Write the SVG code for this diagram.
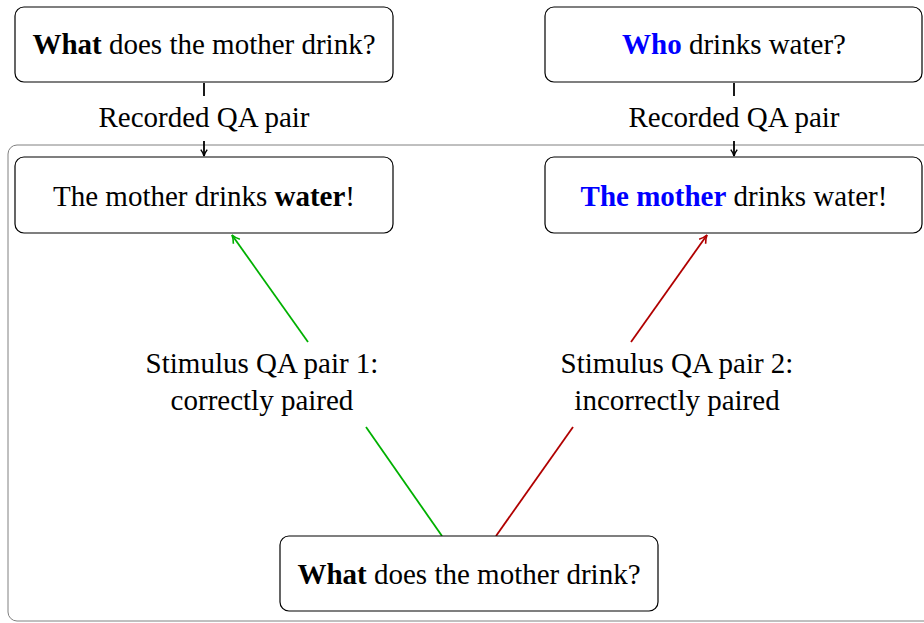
<svg xmlns="http://www.w3.org/2000/svg" width="924" height="623" viewBox="0 0 924 623">
<style>
.box{fill:#fff;stroke:#000;stroke-width:1.2}
.t{font-family:"Liberation Serif","DejaVu Serif",serif;font-size:29px;fill:#000;text-anchor:middle}
.b{font-weight:bold}
.blue{fill:#0000ff}
.c{fill:none;stroke-width:1.8}
</style>
<defs>
<marker id="ak" viewBox="0 0 10 10" refX="9" refY="5" markerWidth="8" markerHeight="8" orient="auto" markerUnits="userSpaceOnUse"><path d="M1,1 Q5,4 9,5 Q5,6 1,9" fill="none" stroke="#000" stroke-width="1.8"/></marker>
<marker id="ag" viewBox="0 0 10 10" refX="9" refY="5" markerWidth="10" markerHeight="10" orient="auto" markerUnits="userSpaceOnUse"><path d="M1,1 Q5,4 9,5 Q5,6 1,9" fill="none" stroke="#00b000" stroke-width="1.6"/></marker>
<marker id="ar" viewBox="0 0 10 10" refX="9" refY="5" markerWidth="10" markerHeight="10" orient="auto" markerUnits="userSpaceOnUse"><path d="M1,1 Q5,4 9,5 Q5,6 1,9" fill="none" stroke="#b00000" stroke-width="1.6"/></marker>
</defs>
<g id="container"><rect x="8" y="145" width="940" height="476" rx="9" fill="none" stroke="#808080" stroke-width="1"/></g>
<g id="connectors">
<line x1="204" y1="83" x2="204" y2="96" stroke="#000" stroke-width="1.8"/>
<line x1="204" y1="141" x2="204" y2="156" stroke="#000" stroke-width="1.8" marker-end="url(#ak)"/>
<line x1="734" y1="83" x2="734" y2="96" stroke="#000" stroke-width="1.8"/>
<line x1="734" y1="141" x2="734" y2="156" stroke="#000" stroke-width="1.8" marker-end="url(#ak)"/>
<line class="c" x1="442" y1="536" x2="366" y2="427" stroke="#00b000"/>
<line class="c" x1="308" y1="342" x2="232" y2="235" stroke="#00b000" marker-end="url(#ag)"/>
<line class="c" x1="496" y1="536" x2="573" y2="427" stroke="#b00000"/>
<line class="c" x1="631" y1="342" x2="707" y2="235" stroke="#b00000" marker-end="url(#ar)"/>
<text class="t" x="204" y="127">Recorded QA pair</text>
<text class="t" x="734" y="127">Recorded QA pair</text>
<text class="t" x="262" y="373">Stimulus QA pair 1:</text>
<text class="t" x="262" y="410">correctly paired</text>
<text class="t" x="677" y="373">Stimulus QA pair 2:</text>
<text class="t" x="677" y="410">incorrectly paired</text>
</g>
<g id="q1"><rect class="box" x="15" y="7" width="378" height="75" rx="9"/><text class="t" x="204" y="54"><tspan class="b">What</tspan> does the mother drink?</text></g>
<g id="q2"><rect class="box" x="545" y="7" width="377" height="75" rx="9"/><text class="t" x="734" y="54"><tspan class="b blue">Who</tspan> drinks water?</text></g>
<g id="a1"><rect class="box" x="15" y="157" width="378" height="76" rx="9"/><text class="t" x="204" y="206">The mother drinks <tspan class="b">water</tspan>!</text></g>
<g id="a2"><rect class="box" x="545" y="157" width="377" height="76" rx="9"/><text class="t" x="734" y="206"><tspan class="b blue">The mother</tspan> drinks water!</text></g>
<g id="q3"><rect class="box" x="280" y="536" width="378" height="75" rx="9"/><text class="t" x="469" y="584"><tspan class="b">What</tspan> does the mother drink?</text></g>
</svg>
